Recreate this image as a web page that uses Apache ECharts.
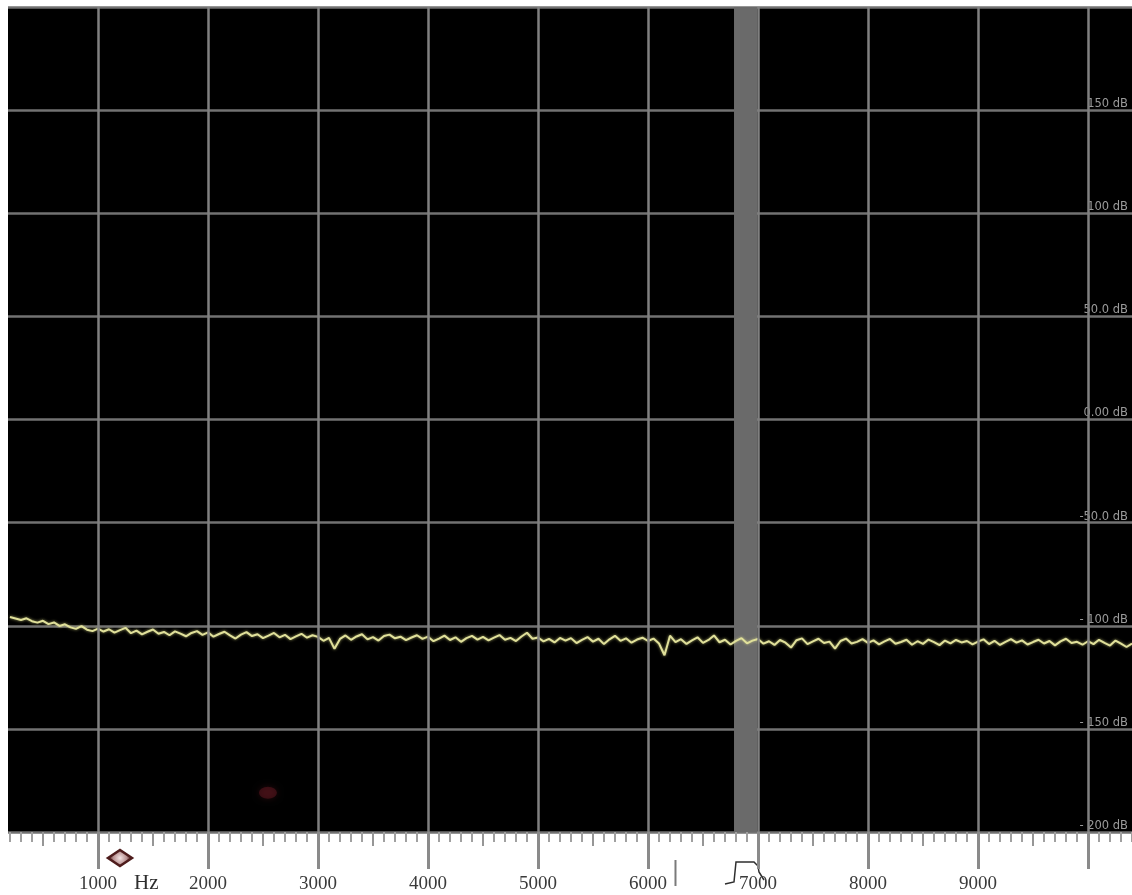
<!DOCTYPE html>
<html>
<head>
<meta charset="utf-8">
<title>Spectrum</title>
<script src="https://cdn.jsdelivr.net/npm/echarts@6/dist/echarts.min.js"></script>
<style>
  html, body { margin: 0; padding: 0; background: #fff; }
  #main { width: 1132px; height: 895px; }
</style>
</head>
<body>
<div id="main"></div>
<script>
"use strict";
// frequency axis (Hz)
const freqMin = 182;
const freqMax = 10400;
const freqGrid = [1000, 2000, 3000, 4000, 5000, 6000, 7000, 8000, 9000, 10000];
const freqLabels = [1000, 2000, 3000, 4000, 5000, 6000, 7000, 8000, 9000];
// level axis (dB)
const dbMin = -200;
const dbMax = 200;
const dbLabels = {
    '150': '150 dB', '100': '100 dB', '50': '50.0 dB', '0': '0.00 dB',
    '-50': '-50.0 dB', '-100': '- 100 dB', '-150': '- 150 dB', '-200': '- 200 dB'
};
// grey band (Hz)
const bandFrom = 6782;
const bandTo = 6991;
// faint red marker in the plot
const redDot = [2545, -181];

// noise trace, 50 Hz steps starting at 200 Hz
const traceStartHz = 200;
const traceStepHz = 50;
const traceDb = [
    // 200 - 950
    -95.8, -96.5, -97.2, -96.4, -97.8, -98.5, -97.6, -99.2, -98.4, -100.1, -99.3, -100.8, -101.5, -100.2, -101.9, -102.6,
    // 1000 - 1950
    -101.4, -102.8, -101.7, -103.3, -102.1, -101.0, -103.6, -102.4, -104.2, -102.9, -101.8, -103.9, -103.0, -104.6, -102.7, -103.8, -105.1, -103.5, -102.6, -104.4,
    // 2000 - 2950
    -103.2, -105.3, -104.0, -102.9, -104.7, -106.2, -104.3, -103.1, -105.0, -104.1, -106.0, -104.8, -103.5, -105.6, -104.4, -106.5, -105.2, -103.9, -105.8, -104.6,
    // 3000 - 3950
    -105.4, -107.3, -105.9, -111.2, -106.4, -104.7, -106.8, -105.2, -104.1, -106.6, -105.5, -107.2, -105.0, -104.3, -106.1, -105.3, -107.0, -105.7, -104.6, -106.4,
    // 4000 - 4950
    -105.3, -107.5, -106.2, -104.8, -106.9, -105.6, -107.8, -106.0, -104.9, -106.7, -105.4, -107.1, -105.8, -104.5, -106.8, -105.9, -107.4, -105.2, -103.4, -106.3,
    // 5000 - 5950
    -105.7, -107.6, -106.4, -108.1, -105.9, -107.2, -106.0, -108.4, -106.8, -105.5, -107.7, -106.3, -108.9, -106.6, -104.9, -107.3, -106.1, -108.2, -106.7, -105.8,
    // 6000 - 6950
    -107.4, -106.2, -108.6, -114.3, -104.8, -107.9, -106.5, -108.8, -107.1, -105.6, -108.3, -106.9, -104.7, -108.0, -106.8, -109.1, -107.3, -106.0, -108.5, -107.2,
    // 7000 - 7950
    -106.4, -108.7, -107.5, -109.3, -106.9, -108.2, -110.6, -107.0, -106.1, -108.9, -107.6, -106.3, -108.4, -107.7, -111.1, -107.4, -106.2, -108.6, -107.8, -106.5,
    // 8000 - 8950
    -108.3, -107.1, -109.0, -107.6, -106.4, -108.7, -107.9, -106.8, -109.2, -107.5, -108.8, -106.7, -107.9, -109.4, -107.2, -108.5, -106.9, -108.1, -107.4, -109.0,
    // 9000 - 9950
    -107.7, -106.6, -108.9, -107.3, -109.3, -107.8, -106.5, -108.2, -107.1, -109.1, -107.9, -106.8, -108.6, -107.4, -109.5, -107.6, -106.3, -108.4, -107.8, -109.2,
    // 10000 - 10400
    -107.5, -108.9, -106.8, -108.3, -109.6, -107.2, -108.7, -110.3, -108.6
];

const traceData = traceDb.map((db, i) => [traceStartHz + i * traceStepHz, db]);

// ruler ticks
const minorTicks = [];
const midTicks = [];
for (let f = 200; f <= freqMax; f += 100) {
    if (f % 1000 === 500) {
        midTicks.push(f);
    } else if (f % 1000 !== 0) {
        minorTicks.push(f);
    }
}

const chart = echarts.init(document.getElementById('main'));

function rulerAxis(ticks, len, color, width) {
    return {
        type: 'value',
        position: 'bottom',
        min: freqMin,
        max: freqMax,
        axisLine: { show: false, onZero: false },
        splitLine: { show: false },
        axisLabel: { show: false },
        axisTick: {
            show: true,
            customValues: ticks,
            length: len,
            lineStyle: { color: color, width: width }
        }
    };
}

const majorAxis = rulerAxis(freqGrid, 37, '#8a8a8a', 3);
majorAxis.axisLabel = {
    show: true,
    customValues: freqLabels,
    margin: 43,
    color: '#3a3a3a',
    fontFamily: 'Liberation Serif',
    fontSize: 19,
    formatter: v => String(v)
};

const option = {
    backgroundColor: '#ffffff',
    animation: false,
    grid: {
        left: 8,
        right: 0,
        top: 7,
        bottom: 63,
        show: true,
        backgroundColor: '#000000',
        borderWidth: 0
    },
    xAxis: [
        majorAxis,
        rulerAxis(minorTicks, 10, '#a0a0a0', 2),
        rulerAxis(midTicks, 14, '#969696', 2)
    ],
    yAxis: {
        type: 'value',
        position: 'right',
        min: dbMin,
        max: dbMax,
        interval: 50,
        axisLine: { show: false },
        axisTick: { show: false },
        splitLine: { show: true, lineStyle: { color: '#727272', width: 2.5 } },
        axisLabel: {
            inside: true,
            margin: 4,
            verticalAlign: 'bottom',
            color: '#9a9a9a',
            fontFamily: 'DejaVu Sans',
            fontSize: 11.5,
            formatter: v => dbLabels[String(v)] || ''
        }
    },
    series: [
        {
            // vertical grid lines and the grey band
            name: 'grid',
            type: 'line',
            xAxisIndex: 0,
            data: [],
            z: 1,
            silent: true,
            markArea: {
                silent: true,
                itemStyle: { color: '#6a6a6a' },
                data: [[{ xAxis: bandFrom }, { xAxis: bandTo }]]
            },
            markLine: {
                silent: true,
                symbol: 'none',
                label: { show: false },
                lineStyle: { color: '#808080', width: 2.5, type: 'solid' },
                data: freqGrid.map(f => ({ xAxis: f }))
            }
        },
        {
            name: 'marker',
            type: 'scatter',
            xAxisIndex: 0,
            z: 2,
            silent: true,
            symbolSize: [18, 12],
            itemStyle: {
                color: 'rgba(105, 25, 35, 0.6)',
                shadowBlur: 6,
                shadowColor: 'rgba(120, 30, 40, 0.6)'
            },
            data: [redDot]
        },
        {
            name: 'trace',
            type: 'line',
            xAxisIndex: 0,
            z: 3,
            showSymbol: false,
            data: traceData,
            lineStyle: {
                color: '#e0e09a',
                width: 2,
                shadowBlur: 3,
                shadowColor: 'rgba(230, 230, 140, 0.7)'
            }
        }
    ]
};

chart.setOption(option);

// small annotations under the ruler, placed from the frequency axis
const px = f => chart.convertToPixel({ xAxisIndex: 0 }, f);
const x1000 = px(1000);
const x7000 = px(7000);
const xCursor = px(6250);

chart.setOption({
    graphic: [
        {
            type: 'polygon',
            shape: { points: [[x1000 + 10, 858], [x1000 + 22, 850], [x1000 + 34, 858], [x1000 + 22, 866]] },
            style: {
                fill: new echarts.graphic.RadialGradient(0.5, 0.5, 0.6, [
                    { offset: 0, color: '#f4e4e4' },
                    { offset: 0.6, color: '#b89090' },
                    { offset: 1, color: '#4e1c1c' }
                ]),
                stroke: '#4e1c1c',
                lineWidth: 2.5
            }
        },
        {
            type: 'text',
            x: x1000 + 36,
            y: 873,
            style: {
                text: 'Hz',
                fill: '#2e2e2e',
                font: '21px "Liberation Serif"'
            }
        },
        {
            type: 'line',
            shape: { x1: xCursor, y1: 860, x2: xCursor, y2: 886 },
            style: { stroke: '#7a7a7a', lineWidth: 2 }
        },
        {
            type: 'polyline',
            shape: {
                points: [
                    [x7000 - 33, 884], [x7000 - 24, 882], [x7000 - 22, 862],
                    [x7000 - 4, 862], [x7000, 866], [x7000 + 1, 872], [x7000 + 6, 880]
                ]
            },
            style: { stroke: '#2e2e2e', lineWidth: 1.5, fill: null }
        }
    ]
});
</script>
</body>
</html>
